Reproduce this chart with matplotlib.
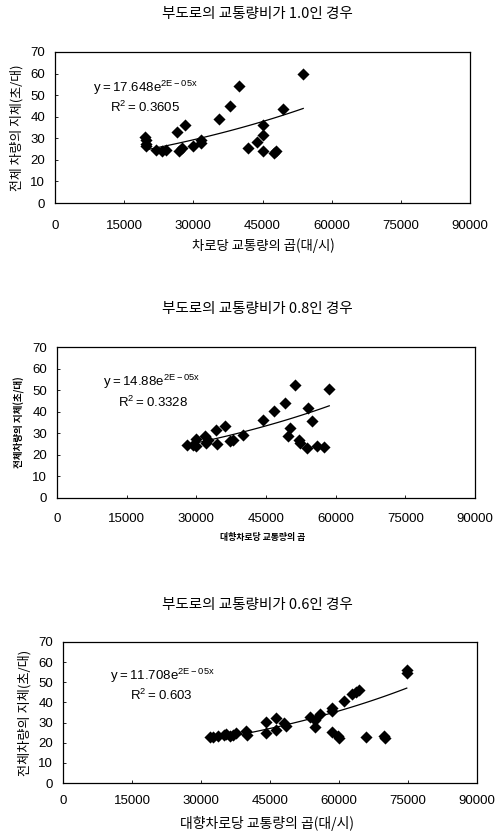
import numpy as np
import matplotlib
matplotlib.use("Agg")
import matplotlib.pyplot as plt

plt.rcParams['font.family'] = ['Liberation Sans', 'Noto Sans CJK KR', 'DejaVu Sans']

# 부도로 교통량비 1.0
x1 = [19600, 19700, 19700, 19800, 21850, 23300, 24000, 26560, 28200, 26900,
      27650, 30030, 31600, 31760, 35600, 37900, 39800, 41750, 43700, 45000,
      45000, 45000, 47540, 47900, 49350, 53830]
y1 = [30.5, 29.0, 27.5, 26.5, 24.4, 24.0, 24.7, 32.9, 36.0, 24.0,
      25.5, 26.3, 27.8, 29.4, 39.1, 44.8, 54.1, 25.5, 28.1, 36.3,
      31.7, 24.0, 23.2, 24.0, 43.7, 60.0]

# 부도로 교통량비 0.8
x2 = [28020, 29300, 29900, 30030, 31820, 32180, 32540, 34200, 34480, 36130,
      37210, 37930, 40090, 44400, 46770, 49070, 49780, 50140, 51220, 52080,
      52300, 53880, 54090, 54960, 55890, 57470, 58620]
y2 = [24.7, 24.7, 24.0, 27.4, 28.6, 25.5, 27.0, 31.7, 25.0, 33.2,
      26.3, 26.7, 29.1, 36.0, 40.2, 44.0, 28.6, 32.5, 52.5, 27.0,
      25.5, 23.2, 41.7, 35.9, 24.0, 23.5, 50.7]

# 부도로 교통량비 0.6
x3 = [32000, 32590, 33670, 34900, 35480, 36200, 36930, 37510, 39830, 39970,
      44170, 44170, 46200, 46200, 48150, 48370, 53730, 54890, 54890, 55900,
      58510, 58510, 58510, 59740, 60100, 61190, 62850, 63720, 64300, 65900,
      69880, 70000, 74730, 74730]
y3 = [22.6, 23.0, 23.3, 23.8, 24.3, 23.3, 23.8, 24.6, 26.0, 23.8,
      30.4, 25.0, 32.1, 26.3, 29.6, 28.5, 32.6, 31.3, 27.6, 34.1,
      37.1, 35.9, 25.5, 23.3, 22.5, 40.9, 44.3, 45.4, 46.3, 22.8,
      23.3, 22.5, 56.2, 54.6]

# 추세선 계수 (y = a * exp(b x)), b는 그림에서 읽은 값
a1, b1 = 17.648, 1.69e-5
a2, b2 = 14.88, 1.80e-5
a3, b3 = 11.708, 1.863e-5

titles = ['부도로의 교통량비가 1.0인 경우',
          '부도로의 교통량비가 0.8인 경우',
          '부도로의 교통량비가 0.6인 경우']
xlabels = ['차로당 교통량의 곱(대/시)', '대향차로당 교통량의 곱', '대향차로당 교통량의 곱(대/시)']
ylabels = ['전체 차량의 지체(초/대)', '전체차량의 지체(초/대)', '전체차량의 지체(초/대)']
eqs = ['17.648', '14.88', '11.708']
r2s = ['0.3605', '0.3328', '0.603']

xticks = [0, 15000, 30000, 45000, 60000, 75000, 90000]
yticks = [0, 10, 20, 30, 40, 50, 60, 70]

W, H = 501, 833
fig = plt.figure(figsize=(W / 100, H / 100), dpi=100)

# 각 패널의 위치 (픽셀): left, right, top, bottom
boxes = [(55, 470, 52, 203), (57, 475, 347, 498), (63, 477, 642, 783)]
title_y = [14, 309, 605]
xlab_y = [246, 537, 823]
xlab_x = [263, 263, 267]
ylab_x = [17, 19, 25]
lab_style = [dict(fontsize=9.6, weight='normal'), dict(fontsize=6.4, weight='bold'),
             dict(fontsize=10, weight='normal')]
ylab_style = [dict(fontsize=9.3, weight='normal'), dict(fontsize=6.9, weight='bold'),
              dict(fontsize=9.5, weight='normal')]
xpad = [12, 11, 9]
eq_pos = [((0.092, 0.76), (0.133, 0.636)), ((0.11, 0.768), (0.146, 0.63)),
          ((0.114, 0.76), (0.162, 0.624))]

data = [(x1, y1, a1, b1), (x2, y2, a2, b2), (x3, y3, a3, b3)]
korean = ['Noto Sans CJK KR', 'DejaVu Sans']

for i, (xs, ys, a, b) in enumerate(data):
    l, r, t, bt = boxes[i]
    ax = fig.add_axes([l / W, 1 - bt / H, (r - l) / W, (bt - t) / H])
    ax.scatter(xs, ys, marker='D', s=38, color='black', zorder=3, linewidths=0)
    xx = np.linspace(min(xs), max(xs), 100)
    ax.plot(xx, a * np.exp(b * xx), color='black', lw=0.9, zorder=2)
    ax.set_xlim(0, 90000)
    ax.set_ylim(0, 70)
    ax.set_xticks(xticks)
    ax.set_yticks(yticks)
    ax.tick_params(axis='x', direction='in', length=2, width=0.6, pad=xpad[i], labelsize=9.5)
    ax.tick_params(axis='y', direction='in', length=2, width=0.6, pad=7, labelsize=9.5)
    for s in ax.spines.values():
        s.set_linewidth(0.9)

    (ex, ey), (rx, ry) = eq_pos[i]
    ax.text(ex, ey, r'$\mathregular{y = %se^{2E-05x}}$' % eqs[i], transform=ax.transAxes,
            fontsize=9.5, va='center', ha='left')
    ax.text(rx, ry, r'$\mathregular{R^2 = %s}$' % r2s[i], transform=ax.transAxes,
            fontsize=9.5, va='center', ha='left')

    fig.text(257 / W, 1 - title_y[i] / H, titles[i], family=korean, fontsize=10.5,
             ha='center', va='center')
    fig.text(xlab_x[i] / W, 1 - xlab_y[i] / H, xlabels[i], family=korean,
             ha='center', va='center', **lab_style[i])
    fig.text(ylab_x[i] / W, 1 - ((t + bt) / 2) / H, ylabels[i], family=korean,
             rotation=90, ha='center', va='center', **ylab_style[i])

fig.savefig('out.png', dpi=100)
